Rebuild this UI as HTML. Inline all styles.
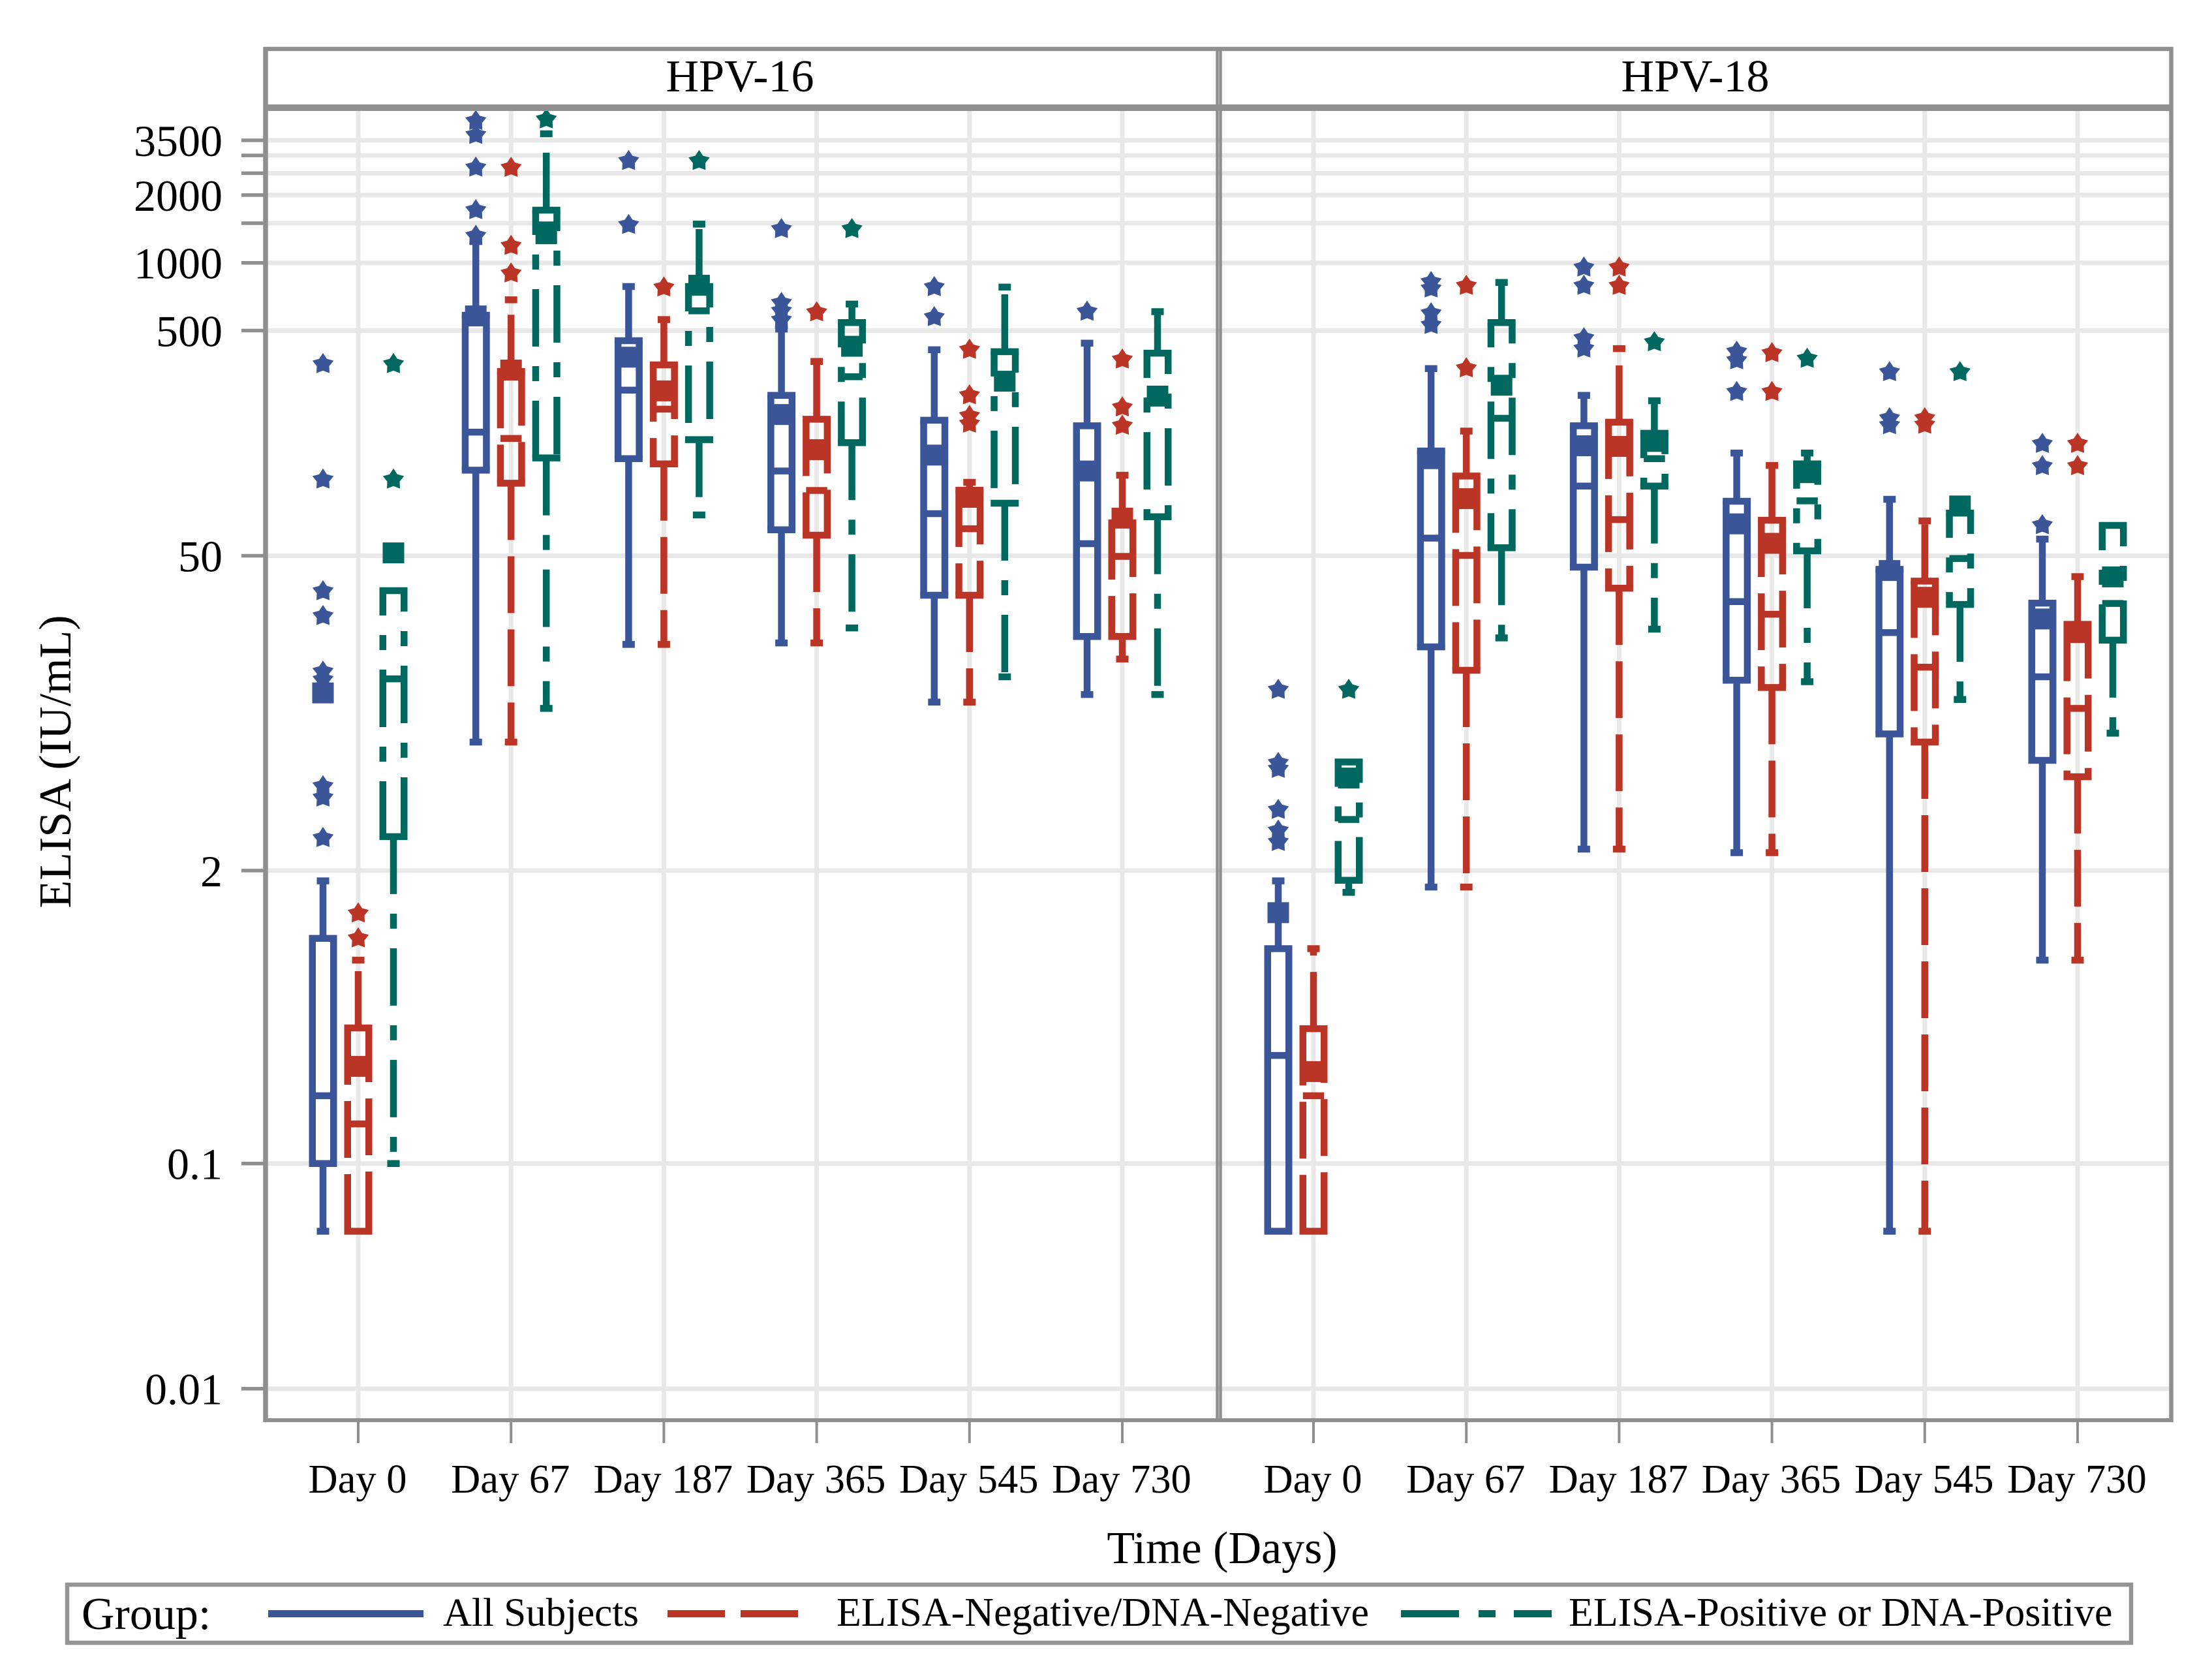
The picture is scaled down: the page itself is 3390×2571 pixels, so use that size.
<!DOCTYPE html>
<html lang="en">
<head>
<meta charset="utf-8">
<title>ELISA boxplots HPV-16 and HPV-18</title>
<style>
html,body{margin:0;padding:0;background:#fff;}
svg{display:block;}
text{font-family:"Liberation Serif",serif;fill:#000;}
</style>
</head>
<body>
<svg id="chart" xmlns="http://www.w3.org/2000/svg" width="3390" height="2571" viewBox="0 0 3390 2571">
  <rect x="0" y="0" width="3390" height="2571" fill="#ffffff"/>
  <g id="grid"></g>
  <g id="marks"></g>
  <g id="axes"></g>
  <g fill="none" stroke="#8f8f8f">
    <line x1="404" y1="75" x2="3330" y2="75" stroke-width="6.5"/>
    <line x1="404" y1="165" x2="3330" y2="165" stroke-width="10"/>
    <line x1="407" y1="72" x2="407" y2="2179" stroke-width="7.5"/>
    <line x1="3327.5" y1="72" x2="3327.5" y2="2179" stroke-width="6.5"/>
    <line x1="404" y1="2176" x2="3330" y2="2176" stroke-width="6"/>
    <line x1="1865.5" y1="72" x2="1865.5" y2="2179" stroke-width="4.5"/>
    <line x1="1870.5" y1="72" x2="1870.5" y2="2179" stroke-width="4.5"/>
  </g>
  <text x="1134" y="140" font-size="70" text-anchor="middle">HPV-16</text>
  <text x="2598" y="140" font-size="70" text-anchor="middle">HPV-18</text>
  <text transform="translate(108 1167) rotate(-90)" font-size="70" text-anchor="middle">ELISA (IU/mL)</text>
  <text x="1873" y="2395" font-size="70" text-anchor="middle">Time (Days)</text>
  <g>
    <rect x="103" y="2428" width="3163" height="89" fill="#ffffff" stroke="#959595" stroke-width="6.5"/>
    <text x="125" y="2496" font-size="70">Group:</text>
    <g>
      <line x1="411" y1="2472.5" x2="649" y2="2472.5" stroke="#3a5598" stroke-width="11"/>
      <text x="679" y="2491" font-size="61">All Subjects</text>
    </g>
    <g>
      <line x1="1023" y1="2472.5" x2="1228" y2="2472.5" stroke="#bb3527" stroke-width="11" stroke-dasharray="88 24"/>
      <text x="1282" y="2491" font-size="62">ELISA-Negative/DNA-Negative</text>
    </g>
    <g>
      <line x1="2147" y1="2472.5" x2="2378" y2="2472.5" stroke="#00685e" stroke-width="11" stroke-dasharray="89 30 26 28"/>
      <text x="2404" y="2491" font-size="62">ELISA-Positive or DNA-Positive</text>
    </g>
  </g>
</svg>
<script>
// ---- category and tick data ----
const categories = ['Day 0','Day 67','Day 187','Day 365','Day 545','Day 730'];
const yTickValues = [3500,3000,2500,2000,1500,1000,500,50,2,0.1,0.01];
const yTickLabels = ['3500','','','2000','','1000','500','50','2','0.1','0.01'];

// ---- HPV-16, All Subjects ----
const hpv16AllLow  = [0.05,7.44,20.2,20.5,11.2,12.1];
const hpv16AllQ1   = [0.1,120,135,65.2,33.4,21.9];
const hpv16AllMed  = [0.2,177,272,119,76.9,56.6];
const hpv16AllQ3   = [1.0,585,451,258,200,189];
const hpv16AllHigh = [1.8,1243,785,508,411,440];
const hpv16AllMean = [12.3,581,381,212,140,119];
const hpv16AllOut  = [[355,109,34.8,27,15.3,14.1,4.74,4.22,2.79],[4266,3698,2648,1714,1318],[2833,1473],[1412,664,612,558],[780,574],[607]];

// ---- HPV-16, ELISA-Negative/DNA-Negative ----
const hpv16NegLow  = [0.05,7.44,20.2,20.5,11.2,17.4];
const hpv16NegQ1   = [0.05,105,128,61.7,33.4,21.9];
const hpv16NegMed  = [0.15,166,224,97.5,65.9,49.7];
const hpv16NegQ3   = [0.4,329,352,202,97.7,70];
const hpv16NegHigh = [0.8,685,560,365,106,114];
const hpv16NegMean = [0.27,334,270,148,90.9,73.5];
const hpv16NegOut  = [[1.29,1.0],[2642,1189,897],[777],[603],[411,258,209,193],[372,228,189]];

// ---- HPV-16, ELISA-Positive or DNA-Positive ----
const hpv16PosLow  = [0.1,10.5,75.9,23.9,14.5,12.1];
const hpv16PosQ1   = [2.83,136,164,159,85.6,74.5];
const hpv16PosMed  = [14.2,1473,612,312,286,251];
const hpv16PosQ3   = [35,1714,785,543,403,397];
const hpv16PosHigh = [35,3741,1486,656,780,607];
const hpv16PosMean = [51.5,1346,795,426,298,256];
const hpv16PosOut  = [[355,109],[4335],[2833],[1412],[],[]];

// ---- HPV-18, All Subjects ----
const hpv18AllLow  = [0.05,1.69,2.49,2.40,0.05,0.8];
const hpv18AllQ1   = [0.05,19.7,44.5,14.0,8.09,6.17];
const hpv18AllMed  = [0.302,59.9,102,31.3,22.8,14.5];
const hpv18AllQ3   = [0.9,146,189,87.3,43.5,30.8];
const hpv18AllHigh = [1.8,339,258,143,89.1,59.3];
const hpv18AllMean = [1.30,135,154,69.3,43,26.2];
const hpv18AllOut  = [[12.7,6.01,5.66,3.72,3.01,2.68],[822,769,597,530],[953,790,463,416],[403,369,267],[327,204,190],[157,125,68.4]];

// ---- HPV-18, ELISA-Negative/DNA-Negative ----
const hpv18NegLow  = [0.05,1.69,2.49,2.40,0.05,0.8];
const hpv18NegQ1   = [0.05,15.5,35.9,13,7.44,5.22];
const hpv18NegMed  = [0.2,50.2,72.4,27.5,16,10.5];
const hpv18NegQ3   = [0.397,113,196,71.9,38.6,24.8];
const hpv18NegHigh = [0.9,179,416,126,71.4,40.4];
const hpv18NegMean = [0.256,89.7,153,56.8,32.7,22.8];
const hpv18NegOut  = [[],[790,340],[953,790],[397,267],[204,191],[157,125]];

// ---- HPV-18, ELISA-Positive or DNA-Positive ----
const hpv18PosLow  = [1.6,21.6,23.6,13.8,11.5,8.15];
const hpv18PosQ1   = [1.81,54.3,102,52.6,30.4,21.1];
const hpv18PosMed  = [3.37,204,135,87.7,48.6,30.7];
const hpv18PosQ3   = [6.07,543,175,128,77.4,68.2];
const hpv18PosHigh = [6.07,818,244,143,83.4,68.2];
const hpv18PosMean = [5.15,286,161,117,83.2,40.3];
const hpv18PosOut  = [[12.7],[],[444],[375],[327],[]];

const panels = [
  {key:'hpv-16', groups:[
    {key:'all', low:hpv16AllLow, q1:hpv16AllQ1, med:hpv16AllMed, q3:hpv16AllQ3, high:hpv16AllHigh, mean:hpv16AllMean, out:hpv16AllOut},
    {key:'negative', low:hpv16NegLow, q1:hpv16NegQ1, med:hpv16NegMed, q3:hpv16NegQ3, high:hpv16NegHigh, mean:hpv16NegMean, out:hpv16NegOut},
    {key:'positive', low:hpv16PosLow, q1:hpv16PosQ1, med:hpv16PosMed, q3:hpv16PosQ3, high:hpv16PosHigh, mean:hpv16PosMean, out:hpv16PosOut}
  ]},
  {key:'hpv-18', groups:[
    {key:'all', low:hpv18AllLow, q1:hpv18AllQ1, med:hpv18AllMed, q3:hpv18AllQ3, high:hpv18AllHigh, mean:hpv18AllMean, out:hpv18AllOut},
    {key:'negative', low:hpv18NegLow, q1:hpv18NegQ1, med:hpv18NegMed, q3:hpv18NegQ3, high:hpv18NegHigh, mean:hpv18NegMean, out:hpv18NegOut},
    {key:'positive', low:hpv18PosLow, q1:hpv18PosQ1, med:hpv18PosMed, q3:hpv18PosQ3, high:hpv18PosHigh, mean:hpv18PosMean, out:hpv18PosOut}
  ]}
];

// ---- scales and styles ----
const NS = 'http://www.w3.org/2000/svg';
const panelFirstTick = [549, 2013];
const tickStep = 234.2;
const groupOffset = [-54, 0, 54];
const groupColor = ['#3a5598', '#bb3527', '#00685e'];
const groupDash = ['none', '87 25', '88 30 23 30'];
const leftSidePhase = [0, 0, 50];
const rightSidePhase = [0, 4, 56];
const STROKE = 10.5;
const BOX_HALF = 16.25;

function yScale(v) { return 1437.7 - 345 * Math.log10(v); }
function xScale(p, day) { return panelFirstTick[p] + day * tickStep; }
function groupX(p, day, g) { return xScale(p, day) + groupOffset[g]; }

function mk(parent, tag, attrs) {
  const el = document.createElementNS(NS, tag);
  for (const k in attrs) el.setAttribute(k, attrs[k]);
  parent.appendChild(el);
  return el;
}

const gridG = document.getElementById('grid');
const axesG = document.getElementById('axes');
const marksG = document.getElementById('marks');

// ---- gridlines, ticks, tick labels ----
yTickValues.forEach(function (v, i) {
  const y = yScale(v);
  const gl = mk(gridG, 'line', {x1: 411, y1: y, x2: 3324, y2: y, stroke: '#e8e8e8', 'stroke-width': 7});
  
  
  const tk = mk(axesG, 'line', {x1: 370, y1: y, x2: 404, y2: y, stroke: '#8f8f8f', 'stroke-width': 5.5});
  
  
  if (yTickLabels[i]) {
    const t = mk(axesG, 'text', {x: 341, y: y + 24, 'font-size': 68, 'text-anchor': 'end'});
    t.textContent = yTickLabels[i];
    
    
  }
});
panels.forEach(function (panel, p) {
  categories.forEach(function (cat, d) {
    const x = xScale(p, d);
    const gl = mk(gridG, 'line', {x1: x, y1: 168, x2: x, y2: 2174, stroke: '#e8e8e8', 'stroke-width': 7});
    
    
    const tk = mk(axesG, 'line', {x1: x, y1: 2178, x2: x, y2: 2211, stroke: '#8f8f8f', 'stroke-width': 4});
    
    
    const t = mk(axesG, 'text', {x: x - 1, y: 2287, 'font-size': 62.5, 'text-anchor': 'middle'});
    t.textContent = cat;
    
    
  });
});

function starPoints(cx, cy) {
  const pts = [];
  for (let i = 0; i < 10; i++) {
    const r = i % 2 === 0 ? 17 : 10;
    const a = -Math.PI / 2 + i * Math.PI / 5;
    pts.push((cx + r * Math.cos(a)).toFixed(1) + ',' + (cy + r * Math.sin(a)).toFixed(1));
  }
  return pts.join(' ');
}

// ---- boxes, whiskers, means, outliers ----
panels.forEach(function (panel, p) {
  panel.groups.forEach(function (grp, g) {
    const color = groupColor[g];
    const dash = groupDash[g];
    categories.forEach(function (cat, d) {
      const x = groupX(p, d, g);
      const yQ1 = yScale(grp.q1[d]);
      const yQ3 = yScale(grp.q3[d]);
      const yMed = yScale(grp.med[d]);
      const yLow = yScale(grp.low[d]);
      const yHigh = yScale(grp.high[d]);
      const yMean = yScale(grp.mean[d]);
      const box = mk(marksG, 'g', {fill: 'none', stroke: color, 'stroke-width': STROKE});
      
      

      if (yQ3 - yHigh > 1) {
        const upper = mk(box, 'line', {x1: x, y1: yQ3, x2: x, y2: yHigh, 'stroke-dasharray': dash});
        
        
        const capHi = mk(box, 'line', {x1: x - 9.5, y1: yHigh, x2: x + 9.5, y2: yHigh});
        
        
      }
      if (yLow - yQ1 > 1) {
        const lower = mk(box, 'line', {x1: x, y1: yQ1, x2: x, y2: yLow, 'stroke-dasharray': dash});
        
        
        const capLo = mk(box, 'line', {x1: x - 9.5, y1: yLow, x2: x + 9.5, y2: yLow});
        
        
      }
      const top = mk(box, 'line', {x1: x - BOX_HALF - STROKE / 2, y1: yQ3, x2: x + BOX_HALF + STROKE / 2, y2: yQ3});
      
      
      const bottom = mk(box, 'line', {x1: x - BOX_HALF - STROKE / 2, y1: yQ1, x2: x + BOX_HALF + STROKE / 2, y2: yQ1});
      
      
      const left = mk(box, 'line', {
        x1: x - BOX_HALF, y1: yQ3, x2: x - BOX_HALF, y2: yQ1,
        'stroke-dasharray': dash,
        'stroke-dashoffset': leftSidePhase[g]
      });
      
      
      const right = mk(box, 'line', {
        x1: x + BOX_HALF, y1: yQ3, x2: x + BOX_HALF, y2: yQ1,
        'stroke-dasharray': dash,
        'stroke-dashoffset': rightSidePhase[g]
      });
      
      
      const med = mk(box, 'line', {x1: x - BOX_HALF, y1: yMed, x2: x + BOX_HALF, y2: yMed});
      
      
      const mean = mk(box, 'rect', {x: x - 16.5, y: yMean - 16, width: 33, height: 32, fill: color, stroke: 'none'});
      
      
      grp.out[d].forEach(function (v) {
        const star = mk(box, 'polygon', {points: starPoints(x, yScale(v)), fill: color, stroke: 'none'});
        
        
      });
    });
  });
});
</script>
</body>
</html>
